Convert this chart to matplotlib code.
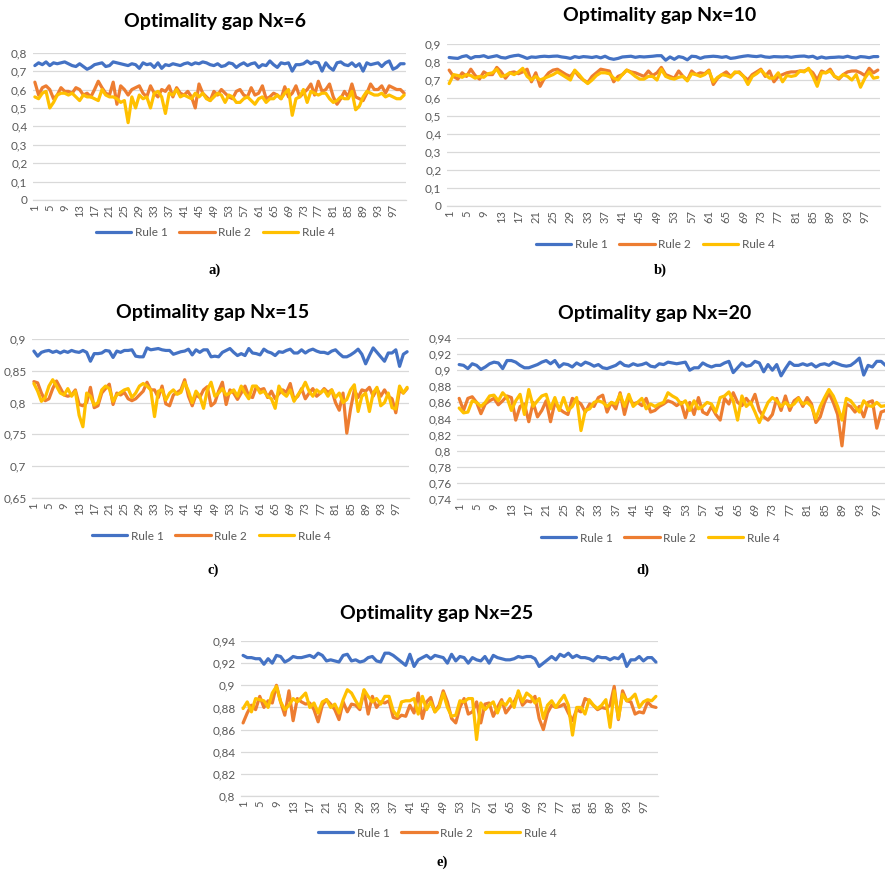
import matplotlib
matplotlib.use("Agg")
import matplotlib.pyplot as plt

plt.rcParams['font.family'] = ['Lato', 'DejaVu Sans']

categories = list(range(1, 101))
series_names = ["Rule 1", "Rule 2", "Rule 4"]
colors = ["#4472C4", "#ED7D31", "#FFC000"]

# ---------------- Nx = 6 ----------------
a_rule1 = [0.73,0.745,0.735,0.75,0.73,0.745,0.74,0.745,0.75,0.74,
           0.73,0.725,0.74,0.725,0.71,0.72,0.735,0.74,0.745,0.725,
           0.73,0.75,0.745,0.74,0.735,0.73,0.74,0.735,0.715,0.745,
           0.735,0.74,0.72,0.745,0.715,0.735,0.73,0.74,0.735,0.73,
           0.74,0.745,0.735,0.745,0.74,0.75,0.745,0.735,0.73,0.74,
           0.725,0.73,0.745,0.74,0.72,0.735,0.745,0.73,0.74,0.745,
           0.72,0.735,0.73,0.755,0.735,0.72,0.745,0.74,0.745,0.70,
           0.735,0.735,0.74,0.755,0.74,0.75,0.745,0.70,0.745,0.72,
           0.705,0.745,0.75,0.735,0.73,0.745,0.725,0.74,0.70,0.745,
           0.735,0.74,0.745,0.725,0.745,0.755,0.71,0.72,0.74,0.74]
a_rule2 = [0.64,0.57,0.61,0.62,0.60,0.55,0.57,0.61,0.59,0.59,
           0.58,0.61,0.60,0.57,0.58,0.56,0.60,0.645,0.61,0.58,
           0.57,0.64,0.52,0.62,0.60,0.57,0.60,0.61,0.62,0.58,
           0.56,0.62,0.58,0.56,0.60,0.59,0.62,0.56,0.61,0.58,
           0.57,0.59,0.56,0.50,0.63,0.58,0.56,0.54,0.59,0.57,
           0.60,0.58,0.56,0.55,0.59,0.60,0.57,0.56,0.61,0.57,
           0.58,0.62,0.55,0.56,0.58,0.57,0.55,0.615,0.56,0.58,
           0.62,0.56,0.58,0.60,0.63,0.57,0.645,0.59,0.60,0.63,
           0.56,0.52,0.55,0.59,0.56,0.63,0.56,0.55,0.54,0.58,
           0.63,0.60,0.60,0.62,0.58,0.62,0.61,0.60,0.60,0.58]
a_rule4 = [0.56,0.55,0.58,0.59,0.50,0.53,0.57,0.58,0.58,0.57,
           0.58,0.56,0.54,0.57,0.56,0.56,0.55,0.54,0.60,0.57,
           0.56,0.56,0.55,0.53,0.54,0.42,0.56,0.50,0.57,0.55,
           0.56,0.50,0.58,0.59,0.56,0.47,0.58,0.57,0.60,0.56,
           0.57,0.56,0.55,0.58,0.56,0.58,0.55,0.54,0.56,0.58,
           0.57,0.53,0.57,0.56,0.53,0.53,0.55,0.56,0.54,0.52,
           0.55,0.56,0.53,0.55,0.55,0.57,0.55,0.58,0.60,0.46,
           0.55,0.56,0.60,0.53,0.59,0.58,0.57,0.58,0.58,0.55,
           0.53,0.54,0.56,0.55,0.55,0.59,0.49,0.51,0.56,0.59,
           0.58,0.57,0.57,0.58,0.56,0.57,0.56,0.55,0.55,0.57]

# ---------------- Nx = 10 ----------------
b_rule1 = [0.825,0.822,0.82,0.83,0.835,0.82,0.83,0.83,0.835,0.825,
           0.83,0.835,0.825,0.822,0.83,0.835,0.838,0.83,0.82,0.828,
           0.826,0.83,0.832,0.83,0.832,0.833,0.828,0.825,0.82,0.83,
           0.825,0.83,0.828,0.825,0.83,0.823,0.832,0.82,0.815,0.82,
           0.828,0.83,0.832,0.826,0.83,0.828,0.83,0.832,0.835,0.835,
           0.81,0.828,0.815,0.83,0.825,0.812,0.832,0.83,0.82,0.828,
           0.83,0.832,0.83,0.826,0.83,0.82,0.823,0.828,0.832,0.835,
           0.832,0.83,0.834,0.828,0.826,0.83,0.829,0.828,0.83,0.826,
           0.83,0.832,0.833,0.828,0.832,0.82,0.828,0.822,0.825,0.826,
           0.828,0.826,0.832,0.825,0.822,0.83,0.828,0.824,0.83,0.83]
b_rule2 = [0.755,0.72,0.705,0.74,0.72,0.76,0.725,0.705,0.745,0.73,
           0.73,0.77,0.745,0.71,0.74,0.745,0.735,0.745,0.76,0.69,
           0.74,0.665,0.71,0.74,0.755,0.76,0.745,0.73,0.72,0.75,
           0.72,0.70,0.685,0.72,0.74,0.76,0.755,0.75,0.69,0.72,
           0.73,0.755,0.745,0.74,0.73,0.72,0.75,0.725,0.74,0.77,
           0.73,0.72,0.71,0.75,0.72,0.70,0.75,0.73,0.74,0.735,
           0.755,0.675,0.71,0.73,0.745,0.72,0.74,0.745,0.72,0.70,
           0.73,0.745,0.76,0.72,0.75,0.69,0.72,0.73,0.74,0.745,
           0.745,0.75,0.75,0.76,0.74,0.70,0.75,0.74,0.76,0.72,
           0.705,0.73,0.745,0.75,0.75,0.74,0.725,0.765,0.74,0.755]
b_rule4 = [0.68,0.73,0.725,0.715,0.73,0.725,0.71,0.72,0.715,0.735,
           0.74,0.76,0.72,0.725,0.74,0.73,0.745,0.765,0.72,0.70,
           0.72,0.70,0.71,0.72,0.73,0.745,0.73,0.715,0.70,0.755,
           0.73,0.70,0.68,0.70,0.725,0.74,0.74,0.735,0.71,0.70,
           0.73,0.755,0.74,0.72,0.705,0.705,0.72,0.72,0.70,0.76,
           0.72,0.71,0.705,0.715,0.72,0.695,0.735,0.73,0.72,0.73,
           0.75,0.69,0.715,0.73,0.725,0.715,0.745,0.74,0.72,0.675,
           0.72,0.735,0.755,0.73,0.71,0.71,0.74,0.69,0.725,0.72,
           0.725,0.75,0.745,0.765,0.72,0.665,0.74,0.74,0.75,0.72,
           0.71,0.73,0.72,0.70,0.73,0.66,0.71,0.745,0.71,0.715]

# ---------------- Nx = 15 ----------------
c_rule1 = [0.881,0.873,0.879,0.881,0.882,0.879,0.881,0.878,0.881,0.879,
           0.882,0.88,0.879,0.882,0.879,0.865,0.877,0.877,0.878,0.882,
           0.881,0.871,0.881,0.879,0.882,0.882,0.883,0.873,0.872,0.872,
           0.886,0.883,0.884,0.885,0.883,0.882,0.882,0.876,0.878,0.88,
           0.881,0.884,0.875,0.883,0.879,0.883,0.883,0.872,0.873,0.872,
           0.879,0.882,0.885,0.879,0.874,0.877,0.874,0.885,0.878,0.877,
           0.875,0.884,0.88,0.878,0.874,0.88,0.879,0.882,0.884,0.878,
           0.878,0.883,0.878,0.882,0.884,0.881,0.879,0.879,0.877,0.881,
           0.883,0.877,0.872,0.872,0.875,0.879,0.884,0.876,0.861,0.874,
           0.886,0.879,0.872,0.865,0.878,0.878,0.883,0.857,0.876,0.88]
c_rule2 = [0.833,0.831,0.815,0.803,0.806,0.822,0.834,0.823,0.812,0.81,
           0.812,0.82,0.797,0.795,0.8,0.824,0.792,0.795,0.815,0.822,
           0.829,0.797,0.815,0.812,0.816,0.806,0.803,0.806,0.812,0.818,
           0.832,0.82,0.82,0.808,0.826,0.798,0.795,0.812,0.816,0.82,
           0.836,0.81,0.795,0.812,0.808,0.82,0.825,0.795,0.8,0.818,
           0.832,0.797,0.82,0.815,0.805,0.815,0.826,0.81,0.808,0.825,
           0.82,0.822,0.808,0.818,0.806,0.814,0.82,0.816,0.83,0.805,
           0.81,0.822,0.806,0.815,0.822,0.81,0.815,0.822,0.816,0.82,
           0.8,0.788,0.815,0.752,0.79,0.82,0.808,0.82,0.818,0.824,
           0.81,0.822,0.81,0.82,0.81,0.806,0.784,0.82,0.815,0.822]
c_rule4 = [0.83,0.818,0.802,0.808,0.826,0.836,0.826,0.815,0.812,0.822,
           0.81,0.818,0.78,0.762,0.815,0.81,0.796,0.8,0.82,0.826,
           0.822,0.802,0.812,0.816,0.82,0.822,0.808,0.815,0.826,0.83,
           0.826,0.82,0.778,0.818,0.82,0.804,0.815,0.82,0.813,0.816,
           0.832,0.818,0.8,0.818,0.81,0.791,0.82,0.832,0.81,0.815,
           0.822,0.812,0.815,0.82,0.81,0.826,0.815,0.806,0.826,0.826,
           0.815,0.818,0.81,0.806,0.791,0.826,0.815,0.81,0.82,0.802,
           0.812,0.82,0.832,0.818,0.81,0.82,0.815,0.82,0.81,0.82,
           0.808,0.815,0.8,0.805,0.82,0.828,0.786,0.81,0.815,0.786,
           0.815,0.824,0.795,0.8,0.815,0.792,0.79,0.826,0.815,0.824]

# ---------------- Nx = 20 ----------------
d_rule1 = [0.907,0.906,0.902,0.908,0.906,0.901,0.904,0.908,0.91,0.909,
           0.902,0.912,0.912,0.91,0.906,0.903,0.903,0.905,0.907,0.91,
           0.912,0.908,0.912,0.904,0.908,0.907,0.904,0.909,0.906,0.91,
           0.908,0.905,0.907,0.903,0.902,0.904,0.906,0.91,0.906,0.905,
           0.908,0.906,0.907,0.909,0.905,0.904,0.908,0.907,0.91,0.909,
           0.908,0.909,0.91,0.9,0.903,0.903,0.909,0.906,0.904,0.906,
           0.906,0.909,0.911,0.897,0.903,0.909,0.905,0.906,0.911,0.909,
           0.898,0.907,0.9,0.907,0.893,0.902,0.91,0.906,0.906,0.908,
           0.906,0.908,0.904,0.907,0.908,0.906,0.91,0.908,0.906,0.905,
           0.906,0.91,0.915,0.894,0.906,0.904,0.911,0.911,0.906,0.905]
d_rule2 = [0.865,0.85,0.865,0.867,0.86,0.846,0.858,0.862,0.865,0.857,
           0.862,0.868,0.866,0.838,0.855,0.858,0.836,0.86,0.842,0.85,
           0.862,0.836,0.86,0.852,0.848,0.845,0.865,0.862,0.858,0.848,
           0.858,0.855,0.866,0.869,0.848,0.86,0.852,0.872,0.845,0.866,
           0.858,0.86,0.856,0.865,0.848,0.85,0.855,0.858,0.862,0.86,
           0.856,0.86,0.841,0.86,0.845,0.866,0.848,0.845,0.855,0.845,
           0.838,0.865,0.858,0.872,0.86,0.856,0.865,0.858,0.87,0.85,
           0.842,0.838,0.845,0.865,0.85,0.868,0.85,0.862,0.866,0.855,
           0.866,0.858,0.835,0.842,0.86,0.872,0.86,0.845,0.806,0.858,
           0.855,0.848,0.855,0.842,0.86,0.862,0.828,0.848,0.85,0.845]
d_rule4 = [0.853,0.847,0.848,0.862,0.86,0.855,0.86,0.868,0.869,0.862,
           0.872,0.866,0.85,0.862,0.87,0.845,0.876,0.855,0.862,0.868,
           0.87,0.852,0.866,0.85,0.866,0.85,0.855,0.866,0.825,0.85,
           0.852,0.86,0.862,0.86,0.855,0.86,0.858,0.87,0.855,0.87,
           0.855,0.86,0.865,0.852,0.858,0.855,0.858,0.86,0.872,0.868,
           0.865,0.858,0.862,0.85,0.862,0.852,0.855,0.86,0.858,0.848,
           0.866,0.868,0.873,0.862,0.838,0.868,0.855,0.86,0.848,0.835,
           0.848,0.86,0.866,0.862,0.855,0.86,0.855,0.858,0.865,0.858,
           0.86,0.855,0.84,0.855,0.866,0.876,0.868,0.855,0.838,0.865,
           0.862,0.855,0.848,0.862,0.856,0.855,0.86,0.855,0.856,0.855]

# ---------------- Nx = 25 ----------------
e_rule1 = [0.927,0.925,0.925,0.924,0.924,0.919,0.924,0.920,0.927,0.926,
           0.921,0.923,0.926,0.925,0.925,0.926,0.927,0.925,0.929,0.927,
           0.922,0.923,0.922,0.921,0.927,0.928,0.922,0.923,0.921,0.922,
           0.925,0.926,0.922,0.921,0.929,0.929,0.927,0.924,0.921,0.918,
           0.928,0.917,0.923,0.925,0.927,0.924,0.927,0.926,0.925,0.920,
           0.928,0.922,0.926,0.925,0.920,0.925,0.923,0.922,0.926,0.920,
           0.927,0.925,0.924,0.923,0.923,0.924,0.926,0.925,0.926,0.926,
           0.924,0.917,0.920,0.923,0.926,0.923,0.928,0.926,0.929,0.925,
           0.927,0.925,0.925,0.924,0.922,0.926,0.925,0.925,0.923,0.925,
           0.924,0.928,0.917,0.923,0.923,0.926,0.922,0.925,0.925,0.921]
e_rule2 = [0.866,0.875,0.882,0.878,0.890,0.880,0.886,0.884,0.900,0.885,
           0.873,0.895,0.868,0.888,0.885,0.883,0.884,0.878,0.867,0.882,
           0.887,0.883,0.878,0.869,0.885,0.876,0.883,0.882,0.878,0.895,
           0.874,0.890,0.880,0.885,0.884,0.886,0.871,0.870,0.873,0.872,
           0.882,0.875,0.893,0.870,0.885,0.889,0.876,0.882,0.895,0.885,
           0.870,0.866,0.880,0.888,0.874,0.876,0.885,0.866,0.883,0.884,
           0.872,0.880,0.887,0.875,0.880,0.885,0.893,0.882,0.886,0.885,
           0.890,0.870,0.860,0.875,0.882,0.880,0.881,0.883,0.875,0.868,
           0.878,0.876,0.888,0.886,0.882,0.878,0.880,0.879,0.882,0.899,
           0.869,0.895,0.886,0.885,0.874,0.876,0.875,0.885,0.881,0.880]
e_rule4 = [0.879,0.885,0.876,0.888,0.887,0.886,0.880,0.893,0.899,0.885,
           0.878,0.882,0.888,0.885,0.889,0.893,0.880,0.884,0.875,0.885,
           0.887,0.880,0.883,0.875,0.887,0.896,0.893,0.886,0.880,0.896,
           0.890,0.885,0.888,0.883,0.890,0.890,0.877,0.872,0.885,0.886,
           0.886,0.888,0.874,0.890,0.878,0.885,0.876,0.880,0.893,0.880,
           0.872,0.873,0.886,0.885,0.888,0.888,0.851,0.884,0.878,0.882,
           0.885,0.875,0.885,0.882,0.888,0.880,0.895,0.885,0.893,0.890,
           0.884,0.888,0.870,0.882,0.886,0.880,0.886,0.891,0.882,0.855,
           0.880,0.880,0.874,0.887,0.882,0.879,0.882,0.887,0.862,0.895,
           0.870,0.892,0.886,0.888,0.892,0.880,0.885,0.887,0.886,0.890]

a_yticks = [0, 0.1, 0.2, 0.3, 0.4, 0.5, 0.6, 0.7, 0.8]
b_yticks = [0, 0.1, 0.2, 0.3, 0.4, 0.5, 0.6, 0.7, 0.8, 0.9]
c_yticks = [0.65, 0.7, 0.75, 0.8, 0.85, 0.9]
d_yticks = [0.74, 0.76, 0.78, 0.8, 0.82, 0.84, 0.86, 0.88, 0.9, 0.92, 0.94]
e_yticks = [0.8, 0.82, 0.84, 0.86, 0.88, 0.9, 0.92, 0.94]

titles = ["Optimality gap Nx=6", "Optimality gap Nx=10", "Optimality gap Nx=15",
          "Optimality gap Nx=20", "Optimality gap Nx=25"]
captions = ["a)", "b)", "c)", "d)", "e)"]

W, H = 885, 872
fig = plt.figure(figsize=(W / 100, H / 100), dpi=100)

def fx(px):
    return px / W

def fy(py):
    return 1 - py / H

panels = [
    dict(data=[a_rule1, a_rule2, a_rule4], yt=a_yticks, box=(33, 406, 52.7, 200),
         title=(215, 22), leg=(215, 233), cap=(215, 270)),
    dict(data=[b_rule1, b_rule2, b_rule4], yt=b_yticks, box=(447, 880, 44, 206),
         title=(660, 15), leg=(655, 245), cap=(660, 270)),
    dict(data=[c_rule1, c_rule2, c_rule4], yt=c_yticks, box=(32, 409, 339, 498),
         title=(213, 312), leg=(211, 536), cap=(213, 570)),
    dict(data=[d_rule1, d_rule2, d_rule4], yt=d_yticks, box=(457, 892, 338, 499),
         title=(655, 313), leg=(660, 538), cap=(643, 570)),
    dict(data=[e_rule1, e_rule2, e_rule4], yt=e_yticks, box=(241, 658, 641, 796),
         title=(437, 613), leg=(437, 833), cap=(442, 862)),
]

def fmt(v):
    s = f"{v:.2f}".rstrip('0').rstrip('.')
    return s.replace('.', ',')

for i, p in enumerate(panels):
    l, r, t, b = p["box"]
    ax = fig.add_axes([fx(l), fy(b), fx(r) - fx(l), fy(t) - fy(b)])
    handles = []
    for vals, name, col in zip(p["data"], series_names, colors):
        h, = ax.plot(categories, vals, color=col, lw=2.3, label=name,
                     solid_joinstyle='round', solid_capstyle='round')
        handles.append(h)
    yt = p["yt"]
    ax.set_ylim(yt[0], yt[-1])
    ax.set_yticks(yt)
    ax.set_yticklabels([fmt(v) for v in yt])
    ax.set_xlim(0.5, 100.5)
    xt = categories[::4]
    ax.set_xticks(xt)
    ax.set_xticklabels([str(c) for c in xt], rotation=90)
    ax.tick_params(axis='both', length=0, labelsize=8.5, colors='#595959', pad=4)
    ax.tick_params(axis='x', labelsize=8, pad=3)
    ax.grid(axis='y', color='#D9D9D9', lw=0.9)
    ax.set_axisbelow(True)
    for s in ['top', 'right', 'left']:
        ax.spines[s].set_visible(False)
    ax.spines['bottom'].set_color('#D9D9D9')
    ax.spines['bottom'].set_linewidth(0.9)
    tx, ty = p["title"]
    fig.text(fx(tx), fy(ty), titles[i], ha='center', va='center',
             fontsize=14, fontweight='bold', color='black')
    lx, ly = p["leg"]
    fig.legend(handles=handles, labels=series_names, loc='center',
               bbox_to_anchor=(fx(lx), fy(ly)), ncol=3, frameon=False,
               fontsize=8.5, handlelength=3.0, columnspacing=1.0,
               handletextpad=0.3, labelcolor='#595959')
    cx, cy = p["cap"]
    fig.text(fx(cx), fy(cy), captions[i], ha='center', va='center',
             fontsize=10.5, fontweight='bold',
             family=['Liberation Serif', 'DejaVu Serif'])

fig.savefig("out.png", dpi=100)
